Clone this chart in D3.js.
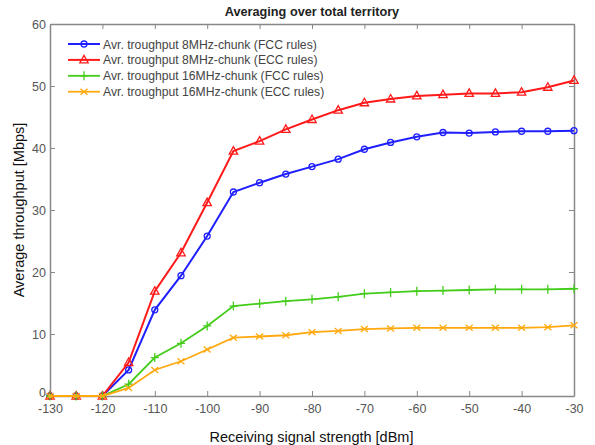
<!DOCTYPE html>
<html>
<head>
<meta charset="utf-8">
<script src="https://cdn.jsdelivr.net/npm/d3@7"></script>
<style>
  body { margin: 0; background: #fff; }
  svg { font-family: "Liberation Sans", Arial, sans-serif; }
</style>
</head>
<body>
<div id="chart"></div>
<script>
// signal strength in dBm
const xValues = [-130, -125, -120, -115, -110, -105, -100, -95, -90, -85, -80, -75, -70, -65, -60, -55, -50, -45, -40, -35, -30];

// throughput in Mbps
const fcc8 = [0, 0, 0, 4.2, 13.9, 19.4, 25.8, 32.9, 34.4, 35.8, 37.0, 38.2, 39.8, 40.9, 41.8, 42.5, 42.4, 42.6, 42.7, 42.7, 42.8];
const ecc8 = [0, 0, 0, 5.4, 16.9, 23.1, 31.2, 39.5, 41.1, 43.0, 44.6, 46.1, 47.3, 47.9, 48.4, 48.6, 48.8, 48.8, 49.0, 49.8, 50.9];
const fcc16 = [0, 0, 0, 1.9, 6.2, 8.5, 11.3, 14.5, 14.9, 15.3, 15.6, 16.0, 16.5, 16.7, 16.9, 17.0, 17.1, 17.2, 17.2, 17.2, 17.3];
const ecc16 = [0, 0, 0, 1.3, 4.2, 5.6, 7.5, 9.4, 9.6, 9.8, 10.3, 10.5, 10.8, 10.9, 11.0, 11.0, 11.0, 11.0, 11.0, 11.1, 11.4];

const seriesNames = [
  "Avr. troughput 8MHz-chunk (FCC rules)",
  "Avr. troughput 8MHz-chunk (ECC rules)",
  "Avr. troughput 16MHz-chunk (FCC rules)",
  "Avr. troughput 16MHz-chunk (ECC rules)"
];
const xTicks = [-130, -120, -110, -100, -90, -80, -70, -60, -50, -40, -30];
const yTicks = [0, 10, 20, 30, 40, 50, 60];

const width = 595, height = 445;
const margin = {top: 24, right: 21, bottom: 49, left: 50};
const chartWidth = width - margin.left - margin.right;
const chartHeight = height - margin.top - margin.bottom;

const svg = d3.select("#chart").append("svg")
  .attr("width", width)
  .attr("height", height);

const chartGroup = svg.append("g")
  .attr("transform", `translate(${margin.left}, ${margin.top})`);

const xScale = d3.scaleLinear().domain([-130, -30]).range([0, chartWidth]);
const yScale = d3.scaleLinear().domain([0, 60]).range([chartHeight, 0]);

// matlab style axes: ticks pointing inwards, mirrored on top/right
const axisColor = "#888";
function styleAxis(g) {
  g.select(".domain").attr("stroke", axisColor).attr("stroke-width", 1.5);
  g.selectAll(".tick line").attr("stroke", axisColor);
}
const plainNum = d => String(d);

chartGroup.append("g")
  .attr("transform", `translate(0, ${chartHeight})`)
  .call(d3.axisBottom(xScale).tickValues(xTicks).tickSize(-5).tickPadding(8).tickSizeOuter(0).tickFormat(plainNum))
  .call(styleAxis);

chartGroup.append("g")
  .call(d3.axisTop(xScale).tickValues(xTicks).tickSize(-5).tickFormat("").tickSizeOuter(0))
  .call(styleAxis);

const yAxisG = chartGroup.append("g")
  .call(d3.axisLeft(yScale).tickValues(yTicks).tickSize(-5).tickPadding(4).tickSizeOuter(0).tickFormat(plainNum))
  .call(styleAxis);
// lift the zero label a little so it does not run into -130
yAxisG.selectAll(".tick text").filter(d => d == 0).attr("dy", "0.0em");

chartGroup.append("g")
  .attr("transform", `translate(${chartWidth}, 0)`)
  .call(d3.axisRight(yScale).tickValues(yTicks).tickSize(-5).tickFormat("").tickSizeOuter(0))
  .call(styleAxis);

chartGroup.selectAll(".tick text").attr("fill", "#555").style("font-size", "12.5px");

const series = [
  {name: seriesNames[0], values: fcc8, color: "#1f1fff", marker: "circle", width: 2},
  {name: seriesNames[1], values: ecc8, color: "#ff1a1a", marker: "triangle", width: 2},
  {name: seriesNames[2], values: fcc16, color: "#44cc1a", marker: "plus", width: 1.8},
  {name: seriesNames[3], values: ecc16, color: "#ffa90f", marker: "cross", width: 1.8}
];

const lineGen = d3.line()
  .x(d => xScale(d[0]))
  .y(d => yScale(d[1]));

function drawMarker(g, type, color) {
  if (type == "circle") {
    g.append("circle").attr("r", 3).attr("fill", "none").attr("stroke", color).attr("stroke-width", 1.3);
  } else if (type == "triangle") {
    g.append("path").attr("d", "M0,-4.5L4.2,3L-4.2,3Z").attr("fill", "none").attr("stroke", color).attr("stroke-width", 1.3);
  } else if (type == "plus") {
    g.append("path").attr("d", "M-4,0H4M0,-4.5V4.5").attr("stroke", color).attr("stroke-width", 1.3);
  } else {
    g.append("path").attr("d", "M-3.5,-3L3.5,3M-3.5,3L3.5,-3").attr("stroke", color).attr("stroke-width", 1.3);
  }
}

series.forEach(s => {
  let dataArray = xValues.map((x, i) => [x, s.values[i]]);
  chartGroup.append("path")
    .attr("d", lineGen(dataArray))
    .attr("fill", "none")
    .attr("stroke", s.color)
    .attr("stroke-width", s.width);
  dataArray.forEach(d => {
    let g = chartGroup.append("g").attr("transform", `translate(${xScale(d[0])}, ${yScale(d[1])})`);
    drawMarker(g, s.marker, s.color);
  });
});

// legend (no box)
const legend = chartGroup.append("g").attr("transform", "translate(18, 20)");
series.forEach((s, i) => {
  let row = legend.append("g").attr("transform", `translate(0, ${i * 15.9})`);
  row.append("line").attr("x1", 0).attr("x2", 32).attr("y1", 0).attr("y2", 0)
    .attr("stroke", s.color).attr("stroke-width", s.width);
  let m = row.append("g").attr("transform", "translate(16, 0)");
  drawMarker(m, s.marker, s.color);
  row.append("text").attr("x", 35).attr("y", 4.5)
    .attr("fill", "#444").style("font-size", "12.2px")
    .text(s.name);
});

svg.append("text")
  .attr("x", margin.left + chartWidth / 2).attr("y", 16)
  .attr("text-anchor", "middle")
  .style("font-size", "12.7px").style("font-weight", "bold").attr("fill", "#222")
  .text("Averaging over total territory");

svg.append("text")
  .attr("x", margin.left + chartWidth / 2 - 0.5).attr("y", 442)
  .attr("text-anchor", "middle")
  .style("font-size", "14.5px").attr("fill", "#111")
  .text("Receiving signal strength [dBm]");

svg.append("text")
  .attr("transform", `translate(24, ${margin.top + chartHeight / 2}) rotate(-90)`)
  .attr("text-anchor", "middle")
  .style("font-size", "14.5px").attr("fill", "#111")
  .text("Average throughput [Mbps]");
</script>
</body>
</html>
